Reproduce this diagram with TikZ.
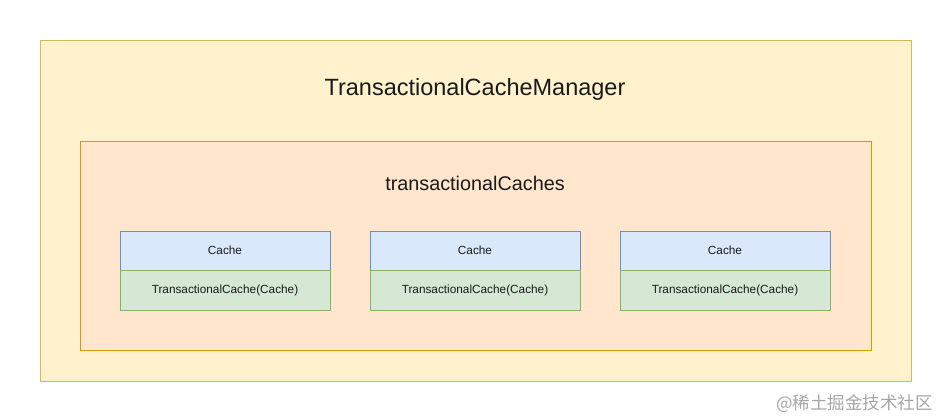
\documentclass[tikz,border=0pt]{standalone}
\usepackage{fontspec}
\setmainfont{Liberation Sans}
\newfontfamily\cjk{Noto Sans CJK SC}
\definecolor{outerfill}{HTML}{FFF2CC}
\definecolor{outerdraw}{HTML}{D6B656}
\definecolor{innerfill}{HTML}{FFE6CC}
\definecolor{innerdraw}{HTML}{D79B00}
\definecolor{bluefill}{HTML}{DAE8FC}
\definecolor{bluedraw}{HTML}{6C8EBF}
\definecolor{greenfill}{HTML}{D5E8D4}
\definecolor{greendraw}{HTML}{82B366}
\definecolor{txt}{HTML}{1A1A1A}
\begin{document}
\begin{tikzpicture}[x=1pt,y=-1pt,
  box/.style={rectangle,inner sep=0pt,outer sep=0pt,line width=0.9pt,anchor=north west},
  outerbox/.style={box,fill=outerfill,draw=outerdraw,minimum width=871pt,minimum height=341pt},
  innerbox/.style={box,fill=innerfill,draw=innerdraw,minimum width=791pt,minimum height=209pt},
  cachebox/.style={box,fill=bluefill,draw=bluedraw,minimum width=210pt,minimum height=39pt,
     font=\fontsize{11.8}{13}\selectfont,text=txt},
  txbox/.style={box,fill=greenfill,draw=greendraw,minimum width=210pt,minimum height=40pt,
     font=\fontsize{11.8}{13}\selectfont,text=txt},
  title/.style={text=txt,inner sep=0pt}
]
\useasboundingbox (0,0) rectangle (950,420);
\node[outerbox] (outer) at (40,40) {};
\node[title,font=\fontsize{23.5}{26}\selectfont] (outertitle) at (475,89.5) {TransactionalCacheManager};
\node[innerbox] (inner) at (80,141) {};
\node[title,font=\fontsize{19.8}{22}\selectfont] (innertitle) at (475,183.5) {transactionalCaches};
\foreach \i/\x in {1/120,2/370,3/620}{
  \node[cachebox] (c\i) at (\x,231) {Cache};
  \node[txbox] (t\i) at (\x,270) {TransactionalCache(Cache)};
}
\node[text=black!35,inner sep=0pt,font=\cjk\fontsize{17.5}{20}\selectfont,anchor=east] (wm) at (933,404) {@稀土掘金技术社区};
\end{tikzpicture}
\end{document}
